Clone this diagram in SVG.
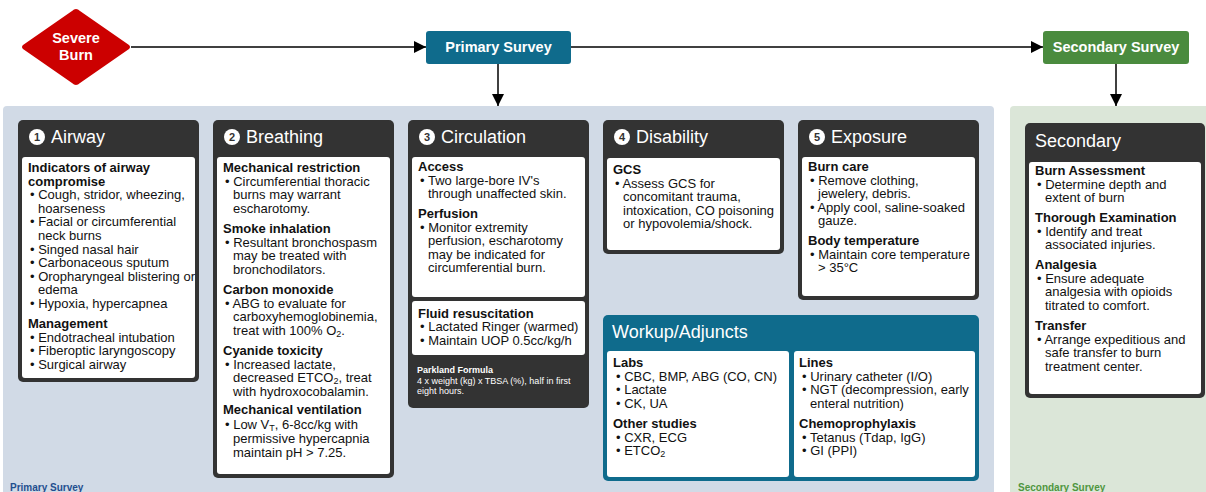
<svg xmlns="http://www.w3.org/2000/svg" width="1206" height="492" viewBox="0 0 1206 492">
  <defs>
    <marker id="arrow" viewBox="0 0 10 10" refX="10" refY="5" markerWidth="12" markerHeight="12" markerUnits="userSpaceOnUse" orient="auto">
      <path d="M0,0 L10,5 L0,10 z" fill="#000"/>
    </marker>
  </defs>
  <style>
    text { font-family: "Liberation Sans", Arial, sans-serif; }
    .flowtxt { font-size: 14.5px; font-weight: bold; fill: #fff; text-anchor: middle; }
    .card { fill: #333333; }
    .inner { fill: #ffffff; }
    .title { font-size: 18px; fill: #ffffff; }
    .num { font-size: 11px; font-weight: bold; fill: #333333; text-anchor: middle; }
    .h { font-size: 13px; font-weight: bold; fill: #111; }
    .b { font-size: 13px; fill: #111; }
    .sub { font-size: 9px; }
    .conn { stroke: #000; stroke-width: 1.5; fill: none; }
    .plabel { font-size: 10px; font-weight: bold; fill: #1f4f8f; }
    .slabel { font-size: 10px; font-weight: bold; fill: #4f963f; }
    .small { font-size: 9px; fill: #fff; }
  </style>

  <!-- survey panels -->
  <g id="primary-panel">
    <rect x="3" y="106" width="991" height="400" rx="4" fill="#d1dae6"/>
    <text class="plabel" x="10" y="491">Primary Survey</text>
  </g>
  <g id="secondary-panel">
    <rect x="1010" y="106" width="210" height="400" rx="4" fill="#dbe6d8"/>
    <text class="slabel" x="1018" y="491">Secondary Survey</text>
  </g>

  <!-- connectors -->
  <g id="connectors">
    <line class="conn" x1="131" y1="47" x2="426" y2="47" marker-end="url(#arrow)"/>
    <line class="conn" x1="571" y1="47" x2="1043" y2="47" marker-end="url(#arrow)"/>
    <line class="conn" x1="498" y1="64" x2="498" y2="106" marker-end="url(#arrow)"/>
    <line class="conn" x1="1116" y1="64" x2="1116" y2="106" marker-end="url(#arrow)"/>
  </g>

  <!-- flow nodes -->
  <g id="severe-burn">
    <path d="M76,9 Q78,9 80,11 L129,45 Q131,47 129,49 L80,83 Q78,85 76,85 Q74,85 72,83 L23,49 Q21,47 23,45 L72,11 Q74,9 76,9 z" fill="#cc0000"/>
    <text class="flowtxt" x="76" y="43">Severe</text>
    <text class="flowtxt" x="76" y="60">Burn</text>
  </g>
  <g id="primary-survey">
    <rect x="426" y="31" width="145" height="33" rx="3" fill="#0f6b8c"/>
    <text class="flowtxt" x="498.5" y="52">Primary Survey</text>
  </g>
  <g id="secondary-survey">
    <rect x="1043" y="31" width="146" height="33" rx="3" fill="#4a8b3e"/>
    <text class="flowtxt" x="1116" y="52">Secondary Survey</text>
  </g>

  <!-- 1 Airway -->
  <g id="airway">
    <rect class="card" x="18" y="120" width="181" height="262" rx="5"/>
    <rect class="inner" x="22" y="157" width="173" height="221" rx="3"/>
    <circle cx="37" cy="137" r="8" fill="#fff"/>
    <text class="num" x="37" y="141">1</text>
    <text class="title" x="51" y="143">Airway</text>
    <text class="h" x="28" y="172">Indicators of airway</text>
    <text class="h" x="28" y="186">compromise</text>
    <text class="b" x="30" y="199">• Cough, stridor, wheezing,</text>
    <text class="b" x="38" y="213">hoarseness</text>
    <text class="b" x="30" y="226">• Facial or circumferential</text>
    <text class="b" x="38" y="240">neck burns</text>
    <text class="b" x="30" y="254">• Singed nasal hair</text>
    <text class="b" x="30" y="267">• Carbonaceous sputum</text>
    <text class="b" x="30" y="281">• Oropharyngeal blistering or</text>
    <text class="b" x="38" y="294">edema</text>
    <text class="b" x="30" y="308">• Hypoxia, hypercapnea</text>
    <text class="h" x="28" y="328">Management</text>
    <text class="b" x="30" y="342">• Endotracheal intubation</text>
    <text class="b" x="30" y="355">• Fiberoptic laryngoscopy</text>
    <text class="b" x="30" y="369">• Surgical airway</text>
  </g>

  <!-- 2 Breathing -->
  <g id="breathing">
    <rect class="card" x="213" y="120" width="181" height="358" rx="5"/>
    <rect class="inner" x="217" y="157" width="173" height="317" rx="3"/>
    <circle cx="232" cy="137" r="8" fill="#fff"/>
    <text class="num" x="232" y="141">2</text>
    <text class="title" x="246" y="143">Breathing</text>
    <text class="h" x="223" y="172">Mechanical restriction</text>
    <text class="b" x="225" y="186">• Circumferential thoracic</text>
    <text class="b" x="233" y="199">burns may warrant</text>
    <text class="b" x="233" y="213">escharotomy.</text>
    <text class="h" x="223" y="233">Smoke inhalation</text>
    <text class="b" x="225" y="247">• Resultant bronchospasm</text>
    <text class="b" x="233" y="260">may be treated with</text>
    <text class="b" x="233" y="274">bronchodilators.</text>
    <text class="h" x="223" y="294">Carbon monoxide</text>
    <text class="b" x="225" y="308">• ABG to evaluate for</text>
    <text class="b" x="233" y="321">carboxyhemoglobinemia,</text>
    <text class="b" x="233" y="335">treat with 100% O<tspan class="sub" dy="2">2</tspan><tspan dy="-2">.</tspan></text>
    <text class="h" x="223" y="355">Cyanide toxicity</text>
    <text class="b" x="225" y="369">• Increased lactate,</text>
    <text class="b" x="233" y="382">decreased ETCO<tspan class="sub" dy="2">2</tspan><tspan dy="-2">, treat</tspan></text>
    <text class="b" x="233" y="396">with hydroxocobalamin.</text>
    <text class="h" x="223" y="414">Mechanical ventilation</text>
    <text class="b" x="225" y="429">• Low V<tspan class="sub" dy="2">T</tspan><tspan dy="-2">, 6-8cc/kg with</tspan></text>
    <text class="b" x="233" y="443">permissive hypercapnia</text>
    <text class="b" x="233" y="457">maintain pH &gt; 7.25.</text>
  </g>

  <!-- 3 Circulation -->
  <g id="circulation">
    <rect class="card" x="408" y="120" width="181" height="288" rx="5"/>
    <rect class="inner" x="412" y="157" width="173" height="140" rx="3"/>
    <rect class="inner" x="412" y="301" width="173" height="54" rx="3"/>
    <circle cx="427" cy="137" r="8" fill="#fff"/>
    <text class="num" x="427" y="141">3</text>
    <text class="title" x="441" y="143">Circulation</text>
    <text class="h" x="418" y="171">Access</text>
    <text class="b" x="420" y="185">• Two large-bore IV's</text>
    <text class="b" x="428" y="198">through unaffected skin.</text>
    <text class="h" x="418" y="218">Perfusion</text>
    <text class="b" x="420" y="232">• Monitor extremity</text>
    <text class="b" x="428" y="245">perfusion, escharotomy</text>
    <text class="b" x="428" y="259">may be indicated for</text>
    <text class="b" x="428" y="272">circumferential burn.</text>
    <text class="h" x="418" y="318">Fluid resuscitation</text>
    <text class="b" x="420" y="331">• Lactated Ringer (warmed)</text>
    <text class="b" x="420" y="345">• Maintain UOP 0.5cc/kg/h</text>
    <text class="small" x="417" y="373" font-weight="bold">Parkland Formula</text>
    <text class="small" x="417" y="384">4 x weight (kg) x TBSA (%), half in first</text>
    <text class="small" x="417" y="394">eight hours.</text>
  </g>

  <!-- 4 Disability -->
  <g id="disability">
    <rect class="card" x="603" y="120" width="181" height="134" rx="5"/>
    <rect class="inner" x="607" y="158" width="173" height="92" rx="3"/>
    <circle cx="622" cy="137" r="8" fill="#fff"/>
    <text class="num" x="622" y="141">4</text>
    <text class="title" x="636" y="143">Disability</text>
    <text class="h" x="613" y="174">GCS</text>
    <text class="b" x="615" y="188">• Assess GCS for</text>
    <text class="b" x="623" y="201">concomitant trauma,</text>
    <text class="b" x="623" y="215">intoxication, CO poisoning</text>
    <text class="b" x="623" y="228">or hypovolemia/shock.</text>
  </g>

  <!-- 5 Exposure -->
  <g id="exposure">
    <rect class="card" x="798" y="120" width="181" height="180" rx="5"/>
    <rect class="inner" x="802" y="157" width="173" height="139" rx="3"/>
    <circle cx="817" cy="137" r="8" fill="#fff"/>
    <text class="num" x="817" y="141">5</text>
    <text class="title" x="831" y="143">Exposure</text>
    <text class="h" x="808" y="171">Burn care</text>
    <text class="b" x="810" y="185">• Remove clothing,</text>
    <text class="b" x="818" y="198">jewelery, debris.</text>
    <text class="b" x="810" y="212">• Apply cool, saline-soaked</text>
    <text class="b" x="818" y="225">gauze.</text>
    <text class="h" x="808" y="245">Body temperature</text>
    <text class="b" x="810" y="259">• Maintain core temperature</text>
    <text class="b" x="818" y="272">&gt; 35°C</text>
  </g>

  <!-- Workup / Adjuncts -->
  <g id="workup">
    <rect x="603" y="315" width="376" height="166" rx="5" fill="#0f6b8c"/>
    <rect class="inner" x="607" y="351" width="182" height="126" rx="3"/>
    <rect class="inner" x="794" y="351" width="181" height="126" rx="3"/>
    <text class="title" x="612" y="338">Workup/Adjuncts</text>
    <text class="h" x="613" y="367">Labs</text>
    <text class="b" x="616" y="381">• CBC, BMP, ABG (CO, CN)</text>
    <text class="b" x="616" y="394">• Lactate</text>
    <text class="b" x="616" y="408">• CK, UA</text>
    <text class="h" x="613" y="428">Other studies</text>
    <text class="b" x="616" y="442">• CXR, ECG</text>
    <text class="b" x="616" y="455">• ETCO<tspan class="sub" dy="2">2</tspan></text>
    <text class="h" x="799" y="367">Lines</text>
    <text class="b" x="802" y="381">• Urinary catheter (I/O)</text>
    <text class="b" x="802" y="394">• NGT (decompression, early</text>
    <text class="b" x="810" y="408">enteral nutrition)</text>
    <text class="h" x="799" y="428">Chemoprophylaxis</text>
    <text class="b" x="802" y="442">• Tetanus (Tdap, IgG)</text>
    <text class="b" x="802" y="455">• GI (PPI)</text>
  </g>

  <!-- Secondary -->
  <g id="secondary">
    <rect class="card" x="1025" y="123" width="180" height="275" rx="5"/>
    <rect class="inner" x="1029" y="162" width="172" height="232" rx="3"/>
    <text class="title" x="1035" y="147" font-size="19">Secondary</text>
    <text class="h" x="1035" y="175">Burn Assessment</text>
    <text class="b" x="1037" y="189">• Determine depth and</text>
    <text class="b" x="1045" y="202">extent of burn</text>
    <text class="h" x="1035" y="222">Thorough Examination</text>
    <text class="b" x="1037" y="236">• Identify and treat</text>
    <text class="b" x="1045" y="249">associated injuries.</text>
    <text class="h" x="1035" y="269">Analgesia</text>
    <text class="b" x="1037" y="283">• Ensure adequate</text>
    <text class="b" x="1045" y="296">analgesia with opioids</text>
    <text class="b" x="1045" y="310">titrated to comfort.</text>
    <text class="h" x="1035" y="330">Transfer</text>
    <text class="b" x="1037" y="344">• Arrange expeditious and</text>
    <text class="b" x="1045" y="357">safe transfer to burn</text>
    <text class="b" x="1045" y="371">treatment center.</text>
  </g>
</svg>
